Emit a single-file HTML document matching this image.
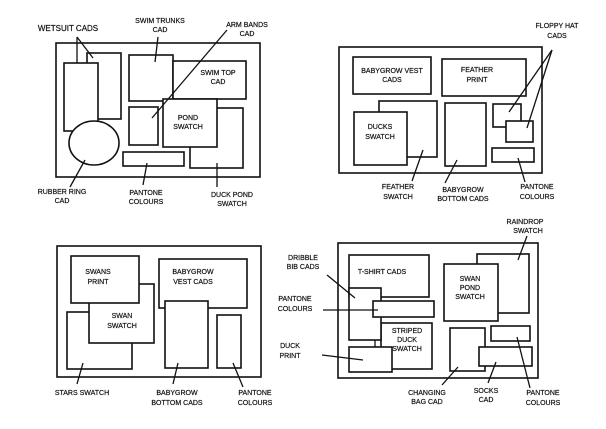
<!DOCTYPE html>
<html><head><meta charset="utf-8"><style>
html,body{margin:0;padding:0;background:#fff;}
svg{display:block;}
text{font-family:"Liberation Sans",sans-serif;font-size:7px;fill:#111;text-anchor:middle;stroke:#111;stroke-width:0.2;}
rect,ellipse{fill:#fff;stroke:#111;stroke-width:1.6;}
line{stroke:#111;stroke-width:1.3;}
</style></head><body>
<svg width="606" height="429" viewBox="0 0 606 429" xmlns="http://www.w3.org/2000/svg">
<!-- Q1 -->
<rect x="56" y="43" width="204" height="134"/>
<rect x="87" y="53" width="34" height="66"/>
<rect x="64" y="63" width="34" height="68"/>
<ellipse cx="94" cy="143" rx="25" ry="22"/>
<rect x="129" y="55" width="44" height="46"/>
<rect x="173" y="61" width="73" height="38"/>
<rect x="129" y="107" width="29" height="38"/>
<rect x="190" y="108" width="53" height="60"/>
<rect x="163" y="99" width="54" height="48"/>
<rect x="123" y="152" width="61" height="14"/>
<text x="68" y="31" style="font-size:8px">WETSUIT CADS</text>
<line x1="77" y1="37" x2="77" y2="63"/><line x1="77" y1="37" x2="93" y2="58"/>
<text x="160" y="23">SWIM TRUNKS</text><text x="160" y="32">CAD</text>
<line x1="158" y1="37" x2="155" y2="62"/>
<text x="247" y="27">ARM BANDS</text><text x="247" y="36">CAD</text>
<line x1="227" y1="30" x2="152" y2="118"/>
<text x="218" y="75">SWIM TOP</text><text x="218" y="84">CAD</text>
<text x="188" y="120">POND</text><text x="188" y="129">SWATCH</text>
<text x="62" y="194">RUBBER RING</text><text x="62" y="203">CAD</text>
<line x1="85" y1="160" x2="70" y2="187"/>
<text x="146" y="195">PANTONE</text><text x="146" y="204">COLOURS</text>
<line x1="147" y1="163" x2="143" y2="185"/>
<text x="232" y="197">DUCK POND</text><text x="232" y="206">SWATCH</text>
<line x1="217" y1="163" x2="217" y2="187"/>
<!-- Q2 -->
<rect x="339" y="47" width="203" height="126"/>
<rect x="353" y="57" width="78" height="37"/>
<rect x="442" y="59" width="84" height="37"/>
<rect x="379" y="101" width="58" height="56"/>
<rect x="354" y="112" width="53" height="53"/>
<rect x="445" y="103" width="41" height="63"/>
<rect x="493" y="104" width="28" height="23"/>
<rect x="506" y="121" width="27" height="21"/>
<rect x="492" y="148" width="42" height="14"/>
<text x="392" y="73">BABYGROW VEST</text><text x="392" y="82">CADS</text>
<text x="477" y="72">FEATHER</text><text x="477" y="82">PRINT</text>
<text x="380" y="129">DUCKS</text><text x="380" y="139">SWATCH</text>
<text x="557" y="28">FLOPPY HAT</text><text x="557" y="38">CADS</text>
<line x1="552" y1="50" x2="509" y2="112"/><line x1="552" y1="50" x2="527" y2="128"/>
<text x="398" y="189">FEATHER</text><text x="398" y="199">SWATCH</text>
<line x1="423" y1="150" x2="412" y2="181"/>
<text x="463" y="192">BABYGROW</text><text x="463" y="201">BOTTOM CADS</text>
<line x1="457" y1="160" x2="445" y2="183"/>
<text x="537" y="189">PANTONE</text><text x="537" y="199">COLOURS</text>
<line x1="518" y1="158" x2="525" y2="182"/>
<!-- Q3 -->
<rect x="57" y="246" width="204" height="131"/>
<rect x="67" y="312" width="65" height="57"/>
<rect x="89" y="284" width="65" height="59"/>
<rect x="71" y="256" width="68" height="47"/>
<rect x="159" y="259" width="88" height="49"/>
<rect x="165" y="301" width="43" height="67"/>
<rect x="217" y="315" width="24" height="53"/>
<text x="98" y="274">SWANS</text><text x="98" y="284">PRINT</text>
<text x="122" y="318">SWAN</text><text x="122" y="328">SWATCH</text>
<text x="193" y="274">BABYGROW</text><text x="193" y="284">VEST CADS</text>
<text x="82" y="395">STARS SWATCH</text>
<line x1="83" y1="363" x2="77" y2="384"/>
<text x="177" y="395">BABYGROW</text><text x="177" y="405">BOTTOM CADS</text>
<line x1="178" y1="363" x2="173" y2="384"/>
<text x="255" y="395">PANTONE</text><text x="255" y="405">COLOURS</text>
<line x1="233" y1="363" x2="243" y2="387"/>
<!-- Q4 -->
<rect x="338" y="243" width="200" height="135"/>
<rect x="349" y="255" width="80" height="42"/>
<rect x="381" y="323" width="51" height="46"/>
<rect x="349" y="288" width="32" height="52"/>
<rect x="373" y="301" width="61" height="16"/>
<line x1="375" y1="340" x2="375" y2="347"/>
<rect x="349" y="347" width="43" height="25"/>
<rect x="477" y="254" width="52" height="59"/>
<rect x="444" y="264" width="54" height="57"/>
<rect x="450" y="328" width="35" height="43"/>
<rect x="491" y="326" width="39" height="15"/>
<rect x="479" y="347" width="53" height="19"/>
<text x="382" y="274">T-SHIRT CADS</text>
<text x="407" y="333">STRIPED</text><text x="407" y="342">DUCK</text><text x="407" y="351">SWATCH</text>
<text x="470" y="281">SWAN</text><text x="470" y="290">POND</text><text x="470" y="299">SWATCH</text>
<text x="303" y="260">DRIBBLE</text><text x="303" y="269">BIB CADS</text>
<line x1="327" y1="275" x2="355" y2="298"/>
<text x="295" y="301">PANTONE</text><text x="295" y="311">COLOURS</text>
<line x1="323" y1="310" x2="378" y2="310"/>
<text x="290" y="348">DUCK</text><text x="290" y="358">PRINT</text>
<line x1="322" y1="355" x2="363" y2="360"/>
<text x="525" y="224">RAINDROP</text><text x="528" y="233">SWATCH</text>
<line x1="527" y1="236" x2="518" y2="260"/>
<text x="427" y="395">CHANGING</text><text x="427" y="404">BAG CAD</text>
<line x1="458" y1="367" x2="442" y2="385"/>
<text x="486" y="393">SOCKS</text><text x="486" y="402">CAD</text>
<line x1="496" y1="362" x2="488" y2="383"/>
<text x="543" y="395">PANTONE</text><text x="543" y="405">COLOURS</text>
<line x1="517" y1="337" x2="530" y2="388"/>
</svg>
</body></html>
